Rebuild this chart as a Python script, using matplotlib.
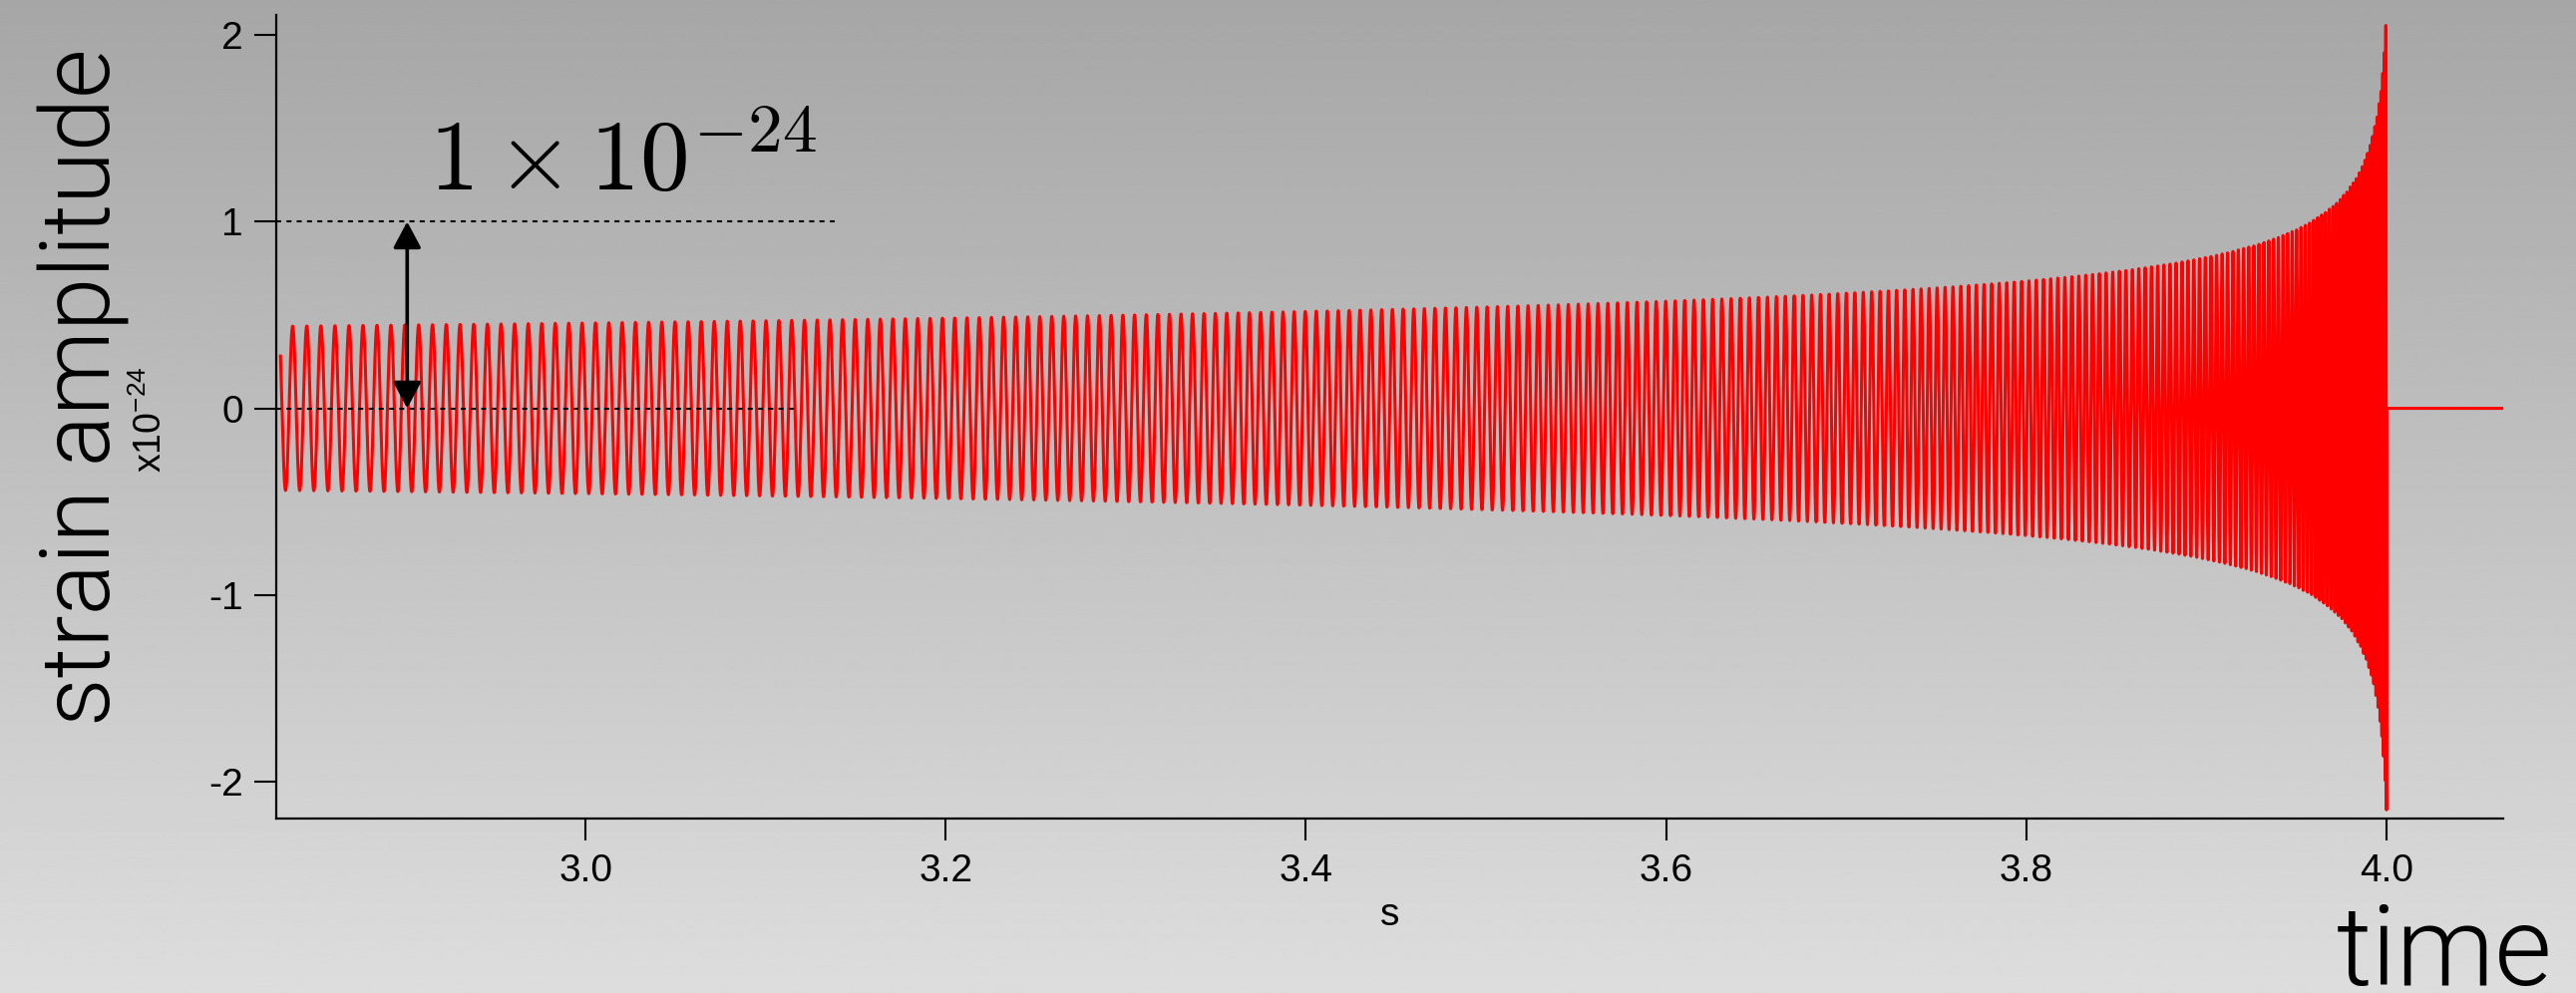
import numpy as np
import matplotlib
matplotlib.use("Agg")
import matplotlib.pyplot as plt

# ---------------- data ----------------
# Inspiral chirp (strain in units of 1e-24), parameters of the waveform
sample_rate = 16384          # Hz
t_start = 2.8306             # s, first sample of the record
t_merge = 4.0                # s, signal stops here
t_coalesce = 4.00194         # s, coalescence time of the power law
t_record_end = 4.0648        # s, end of the record (flat after merger)
crest_time = 2.8374          # s, time of a wave crest
crest_amp = 0.44             # strain amplitude at crest_time
freq_coeff = 134.6           # Hz * s^(3/8): f = freq_coeff * (tc - t)^(-3/8)

yticks = [-2, -1, 0, 1, 2]
ytick_labels = ["-2", "-1", "0", "1", "2"]
xticks = [3.0, 3.2, 3.4, 3.6, 3.8, 4.0]
xtick_labels = ["3.0", "3.2", "3.4", "3.6", "3.8", "4.0"]
xlim = (2.8283, 4.0648)
ylim = (-2.197, 2.107)

scale_level = 1.0            # reference level marked by the arrow
arrow_time = 2.901
ref_line_end_top = 3.140
ref_line_end_zero = 3.1185

# ---------------- waveform ----------------
n_sig = int(np.floor((t_merge - t_start) * sample_rate)) + 1
t_sig = t_merge - np.arange(n_sig)[::-1] / sample_rate
tau = t_coalesce - t_sig
tau_ref = t_coalesce - crest_time
cycles_left = freq_coeff * tau ** 0.625 / 0.625
cycles_ref = freq_coeff * tau_ref ** 0.625 / 0.625
amp = crest_amp * (tau / tau_ref) ** -0.25
h_sig = amp * np.cos(2 * np.pi * (cycles_ref - cycles_left))

t_post = np.arange(1, int((t_record_end - t_merge) * sample_rate) + 1) / sample_rate + t_merge
t = np.concatenate([t_sig, t_post])
strain = np.concatenate([h_sig, np.zeros_like(t_post)])

# ---------------- figure ----------------
plt.rcParams["axes.unicode_minus"] = False
plt.rcParams["lines.scale_dashes"] = False
W, H, DPI = 2583, 996, 100
fig = plt.figure(figsize=(W / DPI, H / DPI), dpi=DPI)

# grey vertical gradient backdrop
bg = fig.add_axes([0, 0, 1, 1], zorder=-10)
grad = np.linspace(166, 221, 512)[:, None] / 255.0
bg.imshow(np.repeat(grad, 2, axis=1), cmap="gray", vmin=0, vmax=1,
          aspect="auto", extent=(0, 1, 0, 1), origin="upper")
bg.axis("off")

ax = fig.add_axes([277 / W, 1 - 821 / H, (2510 - 277) / W, (821 - 15) / H])
ax.set_facecolor("none")

ax.plot(t, strain, color="#ff0000", lw=2.2, zorder=3)

# dotted reference levels and the scale arrow
ax.plot([xlim[0], ref_line_end_top], [scale_level, scale_level],
        color="black", lw=1.5, dashes=(3.6, 3.8), zorder=4)
ax.plot([xlim[0], ref_line_end_zero], [0, 0],
        color="black", lw=1.5, dashes=(3.6, 3.8), zorder=4)
ax.annotate("", xy=(arrow_time, scale_level), xytext=(arrow_time, 0.0),
            arrowprops=dict(arrowstyle="<|-|>,head_length=1.6,head_width=0.85",
                            lw=2.6, color="black", shrinkA=0, shrinkB=0,
                            mutation_scale=10),
            zorder=5)

ax.set_xlim(*xlim)
ax.set_ylim(*ylim)
for side in ("top", "right"):
    ax.spines[side].set_visible(False)
for side in ("left", "bottom"):
    ax.spines[side].set_linewidth(1.6)
    ax.spines[side].set_color("black")

tick_font = dict(family=["Liberation Sans", "DejaVu Sans"], size=28)
ax.set_xticks(xticks)
ax.set_xticklabels(xtick_labels, fontdict=tick_font)
ax.set_yticks(yticks)
ax.set_yticklabels(ytick_labels, fontdict=tick_font)
ax.tick_params(axis="both", direction="out", length=16, width=1.5,
               color="black")
ax.tick_params(axis="x", pad=9)
ax.tick_params(axis="y", pad=8)
ax.set_xlabel("s", fontdict=tick_font, labelpad=6)

light = ["Roboto", "Open Sans", "DejaVu Sans"]
fig.text(84 / W, 1 - 388 / H, "strain amplitude", rotation=90,
         ha="center", va="center", fontsize=69, family=light,
         fontweight=300)
fig.text(151 / W, 1 - 421 / H, r"x10$^{\mathregular{-24}}$", rotation=90,
         ha="center", va="center", fontsize=27,
         family=["Liberation Sans", "DejaVu Sans"])
fig.text(430 / W, 1 - 191 / H, r"$1\times10^{-24}$", ha="left",
         va="baseline", fontsize=71.5, math_fontfamily="cm")
fig.text(2343 / W, 1 - 988 / H, "time", ha="left", va="baseline",
         fontsize=80, family=light, fontweight=300)

fig.savefig("out.png", dpi=DPI)
